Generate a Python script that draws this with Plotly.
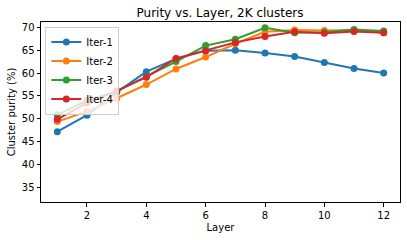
import plotly.graph_objects as go

layers = list(range(1, 13))
iter1 = [47.2, 50.8, 55.8, 60.3, 63.1, 64.9, 65.0, 64.4, 63.6, 62.3, 61.0, 60.0]
iter2 = [49.4, 51.6, 54.5, 57.5, 60.9, 63.5, 66.4, 69.0, 69.4, 69.3, 69.4, 68.8]
iter3 = [50.9, 54.0, 56.0, 59.2, 62.5, 66.0, 67.4, 69.9, 68.8, 68.9, 69.5, 69.2]
iter4 = [49.9, 53.5, 56.1, 59.1, 63.2, 64.9, 66.7, 68.0, 69.0, 68.7, 69.1, 68.8]
names = ["Iter-1", "Iter-2", "Iter-3", "Iter-4"]
colors = ["#1f77b4", "#ff7f0e", "#2ca02c", "#d62728"]

fig = go.Figure()
for name, vals, c in zip(names, [iter1, iter2, iter3, iter4], colors):
    fig.add_trace(go.Scatter(x=layers, y=vals, name=name, mode="lines+markers",
                             line=dict(color=c, width=2),
                             marker=dict(color=c, size=7)))

axis_common = dict(showgrid=False, zeroline=False, showline=True, linecolor="black",
                   linewidth=1, mirror=True, ticks="outside", ticklen=3.5,
                   tickcolor="black", tickfont=dict(size=10, color="black"),
                   automargin=False)
fig.update_xaxes(range=[0.45, 12.55], tickvals=[2, 4, 6, 8, 10, 12],
                 title=dict(text="Layer", font=dict(size=10, color="black"), standoff=4),
                 **axis_common)
fig.update_yaxes(range=[31.85, 71.15], tickvals=[35, 40, 45, 50, 55, 60, 65, 70],
                 title=dict(text="Cluster purity (%)", font=dict(size=10, color="black"), standoff=4),
                 **axis_common)
fig.update_layout(
    width=407, height=240,
    margin=dict(l=41, r=7, t=22, b=38, autoexpand=False),
    paper_bgcolor="white", plot_bgcolor="white",
    font=dict(family="DejaVu Sans", size=10, color="black"),
    title=dict(text="Purity vs. Layer, 2K clusters", x=220 / 407, xanchor="center",
               y=1 - 13 / 240, yanchor="middle", font=dict(size=12, color="black")),
    legend=dict(x=0.012, y=0.975, xanchor="left", yanchor="top",
                bgcolor="rgba(255,255,255,0.8)", bordercolor="#cccccc", borderwidth=1,
                font=dict(size=10), tracegroupgap=0, itemwidth=30),
    showlegend=True,
)
fig.write_html("out.html", config={"displayModeBar": False},
               post_script="document.body.style.margin='0px';")
